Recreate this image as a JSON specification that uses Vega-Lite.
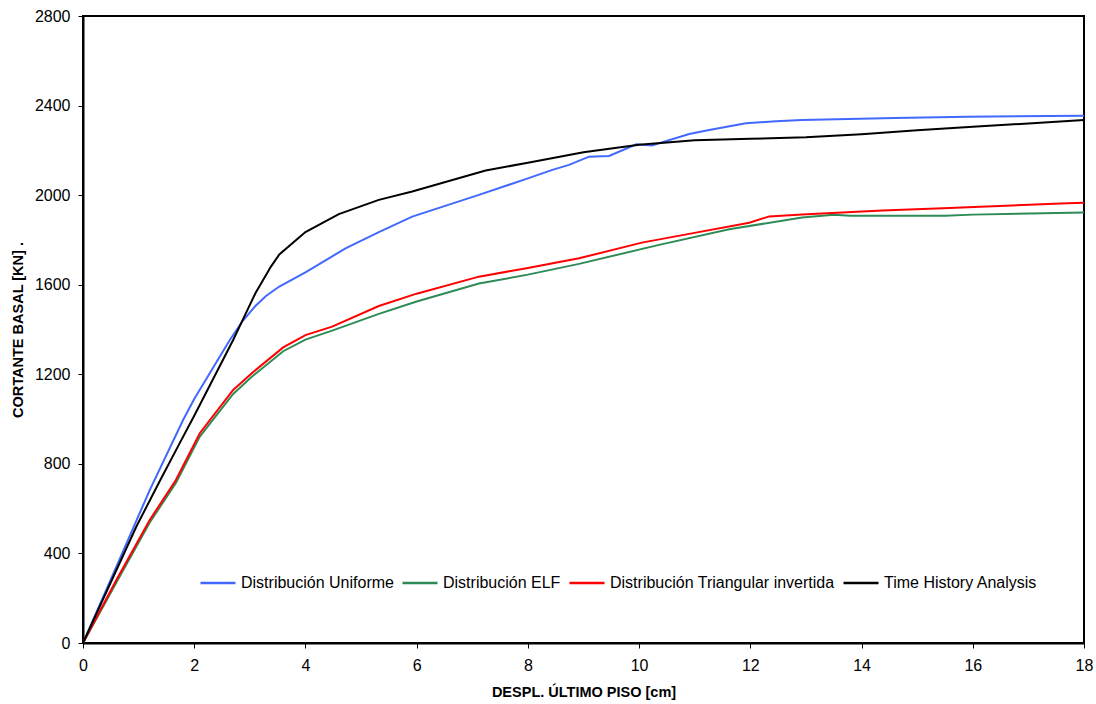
{
  "$schema": "https://vega.github.io/schema/vega-lite/v6.json",
  "autosize": {"type": "none"},
  "width": 1001,
  "height": 627,
  "padding": {"left": 83, "top": 16, "right": 12, "bottom": 61},
  "background": "white",
  "config": {
    "view": {"stroke": "black", "strokeWidth": 2},
    "font": "Liberation Sans"
  },
  "data": {"values": [
    {"s": "Distribución Uniforme", "x": 0, "y": 0},
    {"s": "Distribución Uniforme", "x": 0.6, "y": 341},
    {"s": "Distribución Uniforme", "x": 1.2, "y": 683},
    {"s": "Distribución Uniforme", "x": 1.8, "y": 996},
    {"s": "Distribución Uniforme", "x": 2.0, "y": 1090},
    {"s": "Distribución Uniforme", "x": 2.39, "y": 1250},
    {"s": "Distribución Uniforme", "x": 2.64, "y": 1353},
    {"s": "Distribución Uniforme", "x": 2.87, "y": 1438},
    {"s": "Distribución Uniforme", "x": 3.1, "y": 1505},
    {"s": "Distribución Uniforme", "x": 3.29, "y": 1550},
    {"s": "Distribución Uniforme", "x": 3.53, "y": 1592},
    {"s": "Distribución Uniforme", "x": 4.0, "y": 1655},
    {"s": "Distribución Uniforme", "x": 4.72, "y": 1762},
    {"s": "Distribución Uniforme", "x": 5.32, "y": 1835},
    {"s": "Distribución Uniforme", "x": 5.92, "y": 1904},
    {"s": "Distribución Uniforme", "x": 7.12, "y": 2001},
    {"s": "Distribución Uniforme", "x": 8.0, "y": 2075},
    {"s": "Distribución Uniforme", "x": 8.44, "y": 2113},
    {"s": "Distribución Uniforme", "x": 8.74, "y": 2135},
    {"s": "Distribución Uniforme", "x": 9.1, "y": 2172},
    {"s": "Distribución Uniforme", "x": 9.46, "y": 2175},
    {"s": "Distribución Uniforme", "x": 9.95, "y": 2227},
    {"s": "Distribución Uniforme", "x": 10.23, "y": 2222},
    {"s": "Distribución Uniforme", "x": 10.9, "y": 2273},
    {"s": "Distribución Uniforme", "x": 11.26, "y": 2291},
    {"s": "Distribución Uniforme", "x": 11.92, "y": 2321},
    {"s": "Distribución Uniforme", "x": 12.46, "y": 2330},
    {"s": "Distribución Uniforme", "x": 12.93, "y": 2336},
    {"s": "Distribución Uniforme", "x": 14.6, "y": 2345},
    {"s": "Distribución Uniforme", "x": 15.9, "y": 2350},
    {"s": "Distribución Uniforme", "x": 18.0, "y": 2355},
    {"s": "Distribución ELF", "x": 0, "y": 0},
    {"s": "Distribución ELF", "x": 0.6, "y": 270},
    {"s": "Distribución ELF", "x": 1.2, "y": 538},
    {"s": "Distribución ELF", "x": 1.67, "y": 715},
    {"s": "Distribución ELF", "x": 2.1, "y": 922},
    {"s": "Distribución ELF", "x": 2.7, "y": 1112},
    {"s": "Distribución ELF", "x": 3.04, "y": 1190},
    {"s": "Distribución ELF", "x": 3.6, "y": 1303},
    {"s": "Distribución ELF", "x": 4.0, "y": 1355},
    {"s": "Distribución ELF", "x": 4.48, "y": 1395},
    {"s": "Distribución ELF", "x": 5.32, "y": 1470},
    {"s": "Distribución ELF", "x": 6.0, "y": 1525},
    {"s": "Distribución ELF", "x": 7.12, "y": 1605},
    {"s": "Distribución ELF", "x": 8.0, "y": 1645},
    {"s": "Distribución ELF", "x": 8.92, "y": 1693},
    {"s": "Distribución ELF", "x": 10.36, "y": 1778},
    {"s": "Distribución ELF", "x": 11.62, "y": 1848},
    {"s": "Distribución ELF", "x": 12.93, "y": 1900},
    {"s": "Distribución ELF", "x": 13.5, "y": 1912},
    {"s": "Distribución ELF", "x": 13.8, "y": 1908},
    {"s": "Distribución ELF", "x": 15.5, "y": 1908},
    {"s": "Distribución ELF", "x": 16.0, "y": 1913},
    {"s": "Distribución ELF", "x": 18.0, "y": 1922},
    {"s": "Distribución Triangular invertida", "x": 0, "y": 0},
    {"s": "Distribución Triangular invertida", "x": 0.6, "y": 281},
    {"s": "Distribución Triangular invertida", "x": 1.2, "y": 549},
    {"s": "Distribución Triangular invertida", "x": 1.67, "y": 728},
    {"s": "Distribución Triangular invertida", "x": 2.1, "y": 937},
    {"s": "Distribución Triangular invertida", "x": 2.7, "y": 1130},
    {"s": "Distribución Triangular invertida", "x": 3.04, "y": 1206},
    {"s": "Distribución Triangular invertida", "x": 3.6, "y": 1320},
    {"s": "Distribución Triangular invertida", "x": 4.0, "y": 1375},
    {"s": "Distribución Triangular invertida", "x": 4.48, "y": 1413},
    {"s": "Distribución Triangular invertida", "x": 5.32, "y": 1505},
    {"s": "Distribución Triangular invertida", "x": 6.0, "y": 1560},
    {"s": "Distribución Triangular invertida", "x": 7.12, "y": 1636},
    {"s": "Distribución Triangular invertida", "x": 8.0, "y": 1675},
    {"s": "Distribución Triangular invertida", "x": 8.92, "y": 1718},
    {"s": "Distribución Triangular invertida", "x": 10.05, "y": 1788},
    {"s": "Distribución Triangular invertida", "x": 10.9, "y": 1827},
    {"s": "Distribución Triangular invertida", "x": 11.98, "y": 1877},
    {"s": "Distribución Triangular invertida", "x": 12.34, "y": 1905},
    {"s": "Distribución Triangular invertida", "x": 12.93, "y": 1914},
    {"s": "Distribución Triangular invertida", "x": 14.37, "y": 1931},
    {"s": "Distribución Triangular invertida", "x": 15.58, "y": 1943},
    {"s": "Distribución Triangular invertida", "x": 17.7, "y": 1964},
    {"s": "Distribución Triangular invertida", "x": 18.0, "y": 1966},
    {"s": "Time History Analysis", "x": 0, "y": 0},
    {"s": "Time History Analysis", "x": 0.96, "y": 520},
    {"s": "Time History Analysis", "x": 1.39, "y": 728},
    {"s": "Time History Analysis", "x": 1.77, "y": 907},
    {"s": "Time History Analysis", "x": 2.0, "y": 1015},
    {"s": "Time History Analysis", "x": 2.7, "y": 1353},
    {"s": "Time History Analysis", "x": 2.93, "y": 1473},
    {"s": "Time History Analysis", "x": 3.1, "y": 1562},
    {"s": "Time History Analysis", "x": 3.38, "y": 1681},
    {"s": "Time History Analysis", "x": 3.53, "y": 1735},
    {"s": "Time History Analysis", "x": 4.0, "y": 1835},
    {"s": "Time History Analysis", "x": 4.6, "y": 1915},
    {"s": "Time History Analysis", "x": 5.32, "y": 1979},
    {"s": "Time History Analysis", "x": 5.92, "y": 2016},
    {"s": "Time History Analysis", "x": 7.24, "y": 2110},
    {"s": "Time History Analysis", "x": 8.0, "y": 2145},
    {"s": "Time History Analysis", "x": 9.0, "y": 2192},
    {"s": "Time History Analysis", "x": 10.0, "y": 2225},
    {"s": "Time History Analysis", "x": 11.0, "y": 2245},
    {"s": "Time History Analysis", "x": 12.0, "y": 2252},
    {"s": "Time History Analysis", "x": 13.0, "y": 2258},
    {"s": "Time History Analysis", "x": 14.0, "y": 2272},
    {"s": "Time History Analysis", "x": 15.0, "y": 2290},
    {"s": "Time History Analysis", "x": 16.0, "y": 2305},
    {"s": "Time History Analysis", "x": 17.0, "y": 2320},
    {"s": "Time History Analysis", "x": 18.0, "y": 2336}
  ]},
  "mark": {"type": "line", "strokeWidth": 2, "clip": true},
  "encoding": {
    "x": {
      "field": "x", "type": "quantitative",
      "scale": {"domain": [0, 18], "nice": false},
      "axis": {
        "title": "DESPL. ÚLTIMO PISO [cm]",
        "titleFont": "Liberation Sans", "titleFontSize": 14.5, "titleFontWeight": "bold", "titleColor": "black",
        "titlePadding": 12,
        "values": [0, 2, 4, 6, 8, 10, 12, 14, 16, 18],
        "format": "d",
        "labelFlush": false,
        "labelFont": "Liberation Sans", "labelFontSize": 16, "labelColor": "black", "labelPadding": 9,
        "grid": false, "domainColor": "black", "domainWidth": 2,
        "tickColor": "black", "tickSize": 5, "tickWidth": 1
      }
    },
    "y": {
      "field": "y", "type": "quantitative",
      "scale": {"domain": [0, 2800], "nice": false},
      "axis": {
        "title": "CORTANTE BASAL [KN] .",
        "titleFont": "Liberation Sans", "titleFontSize": 14.5, "titleFontWeight": "bold", "titleColor": "black",
        "titlePadding": 9,
        "values": [0, 400, 800, 1200, 1600, 2000, 2400, 2800],
        "format": "d",
        "labelFlush": false,
        "labelFont": "Liberation Sans", "labelFontSize": 16, "labelColor": "black", "labelPadding": 8,
        "grid": false, "domainColor": "black", "domainWidth": 2,
        "tickColor": "black", "tickSize": 5, "tickWidth": 1
      }
    },
    "color": {
      "field": "s", "type": "nominal",
      "scale": {
        "domain": ["Distribución Uniforme", "Distribución ELF", "Distribución Triangular invertida", "Time History Analysis"],
        "range": ["#4169ff", "#2e8b57", "#ff0000", "#000000"]
      },
      "legend": {
        "title": null,
        "orient": "none",
        "direction": "horizontal",
        "legendX": 116,
        "legendY": 548,
        "symbolType": "stroke",
        "symbolSize": 1225,
        "symbolStrokeWidth": 2.5,
        "labelFont": "Liberation Sans",
        "labelFontSize": 16,
        "labelColor": "black",
        "labelOffset": 4,
        "columnPadding": 3,
        "labelLimit": 400
      }
    }
  }
}
